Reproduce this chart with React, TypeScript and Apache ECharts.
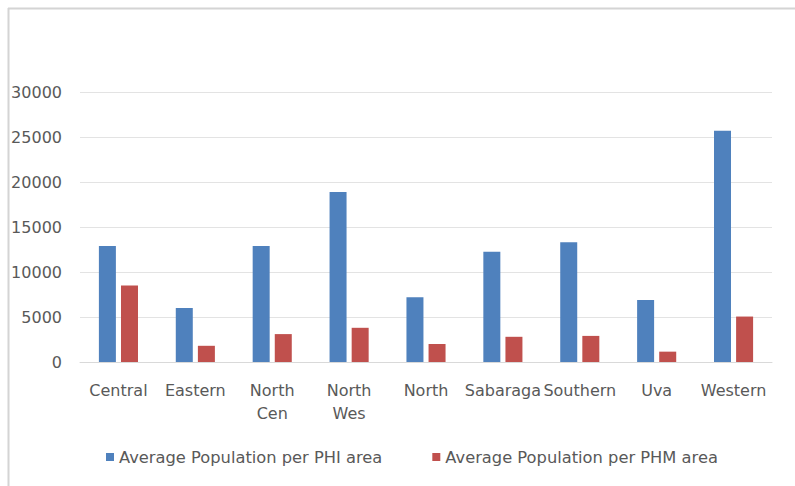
import React, { useEffect, useRef } from "react";
import * as echarts from "echarts";

const categories = ["Central", "Eastern", "North\nCen", "North\nWes", "North", "Sabaraga", "Southern", "Uva", "Western"];
const phiValues = [12900, 6000, 12900, 18900, 7200, 12250, 13300, 6900, 25700];
const phmValues = [8500, 1800, 3100, 3800, 2000, 2800, 2900, 1150, 5050];
const seriesNames = ["Average Population per PHI area", "Average Population per PHM area"];

export default function App() {
  const ref = useRef<HTMLDivElement>(null);
  useEffect(() => {
    const chart = echarts.init(ref.current!, undefined, { renderer: "svg" });
    const font = "DejaVu Sans";
    chart.setOption({
      animation: false,
      backgroundColor: "#ffffff",
      textStyle: { fontFamily: font },
      graphic: [
        { type: "line", shape: { x1: 8, y1: 8.5, x2: 795, y2: 8.5 }, style: { stroke: "#d4d4d4", lineWidth: 2 } },
        { type: "line", shape: { x1: 8.5, y1: 8, x2: 8.5, y2: 486 }, style: { stroke: "#d4d4d4", lineWidth: 2 } },
      ],
      grid: { left: 80, right: 23, top: 92, bottom: 124 },
      legend: {
        bottom: 16,
        left: 101,
        itemWidth: 8,
        itemHeight: 8,
        itemGap: 50,
        icon: "rect",
        textStyle: { fontFamily: font, fontSize: 16.3, color: "#595959" },
        data: seriesNames,
      },
      xAxis: {
        type: "category",
        data: categories,
        axisLine: { show: true, lineStyle: { color: "#d9d9d9" } },
        axisTick: { show: false },
        axisLabel: { interval: 0, color: "#595959", fontSize: 16, margin: 17, lineHeight: 23, fontFamily: font },
      },
      yAxis: {
        type: "value",
        min: 0,
        max: 30000,
        interval: 5000,
        axisLine: { show: false },
        axisTick: { show: false },
        splitLine: { lineStyle: { color: "#e3e3e3" } },
        axisLabel: { color: "#595959", fontSize: 16, margin: 18, fontFamily: font, formatter: (v: number) => String(v) },
      },
      series: [
        { name: seriesNames[0], type: "bar", data: phiValues, barWidth: 17, barGap: "30%", itemStyle: { color: "#4F81BD" } },
        { name: seriesNames[1], type: "bar", data: phmValues, barWidth: 17, itemStyle: { color: "#C0504D" } },
      ],
    });
    return () => chart.dispose();
  }, []);
  return <div ref={ref} style={{ width: 795, height: 486, position: "fixed", left: 0, top: 0 }} />;
}
